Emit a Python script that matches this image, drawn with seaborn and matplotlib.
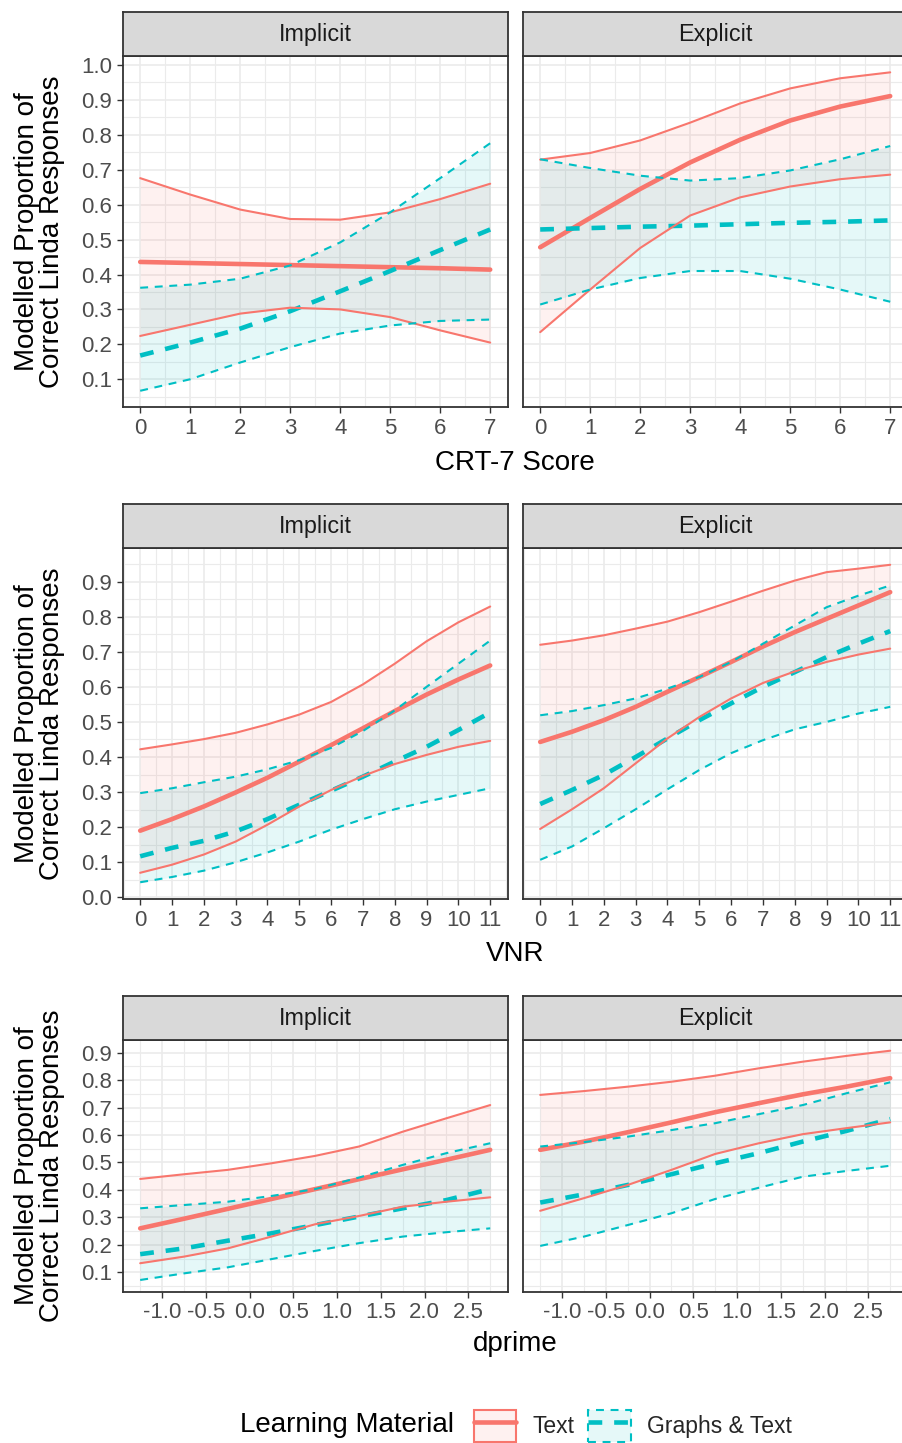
import numpy as np
import pandas as pd
import matplotlib
matplotlib.use("Agg")
import matplotlib.pyplot as plt
import seaborn as sns
from matplotlib.patches import Patch
from matplotlib.lines import Line2D
from matplotlib.colors import to_rgba

# ---------------- data ----------------
materials = ["Text", "Graphs & Text"]
conditions = ["Implicit", "Explicit"]

# CRT-7 Score
crt_x = [0, 1, 2, 3, 4, 5, 6, 7]
crt_imp_text_mean = [0.436, 0.433, 0.430, 0.427, 0.424, 0.421, 0.418, 0.414]
crt_imp_text_lo = [0.224, 0.256, 0.288, 0.305, 0.300, 0.278, 0.240, 0.205]
crt_imp_text_hi = [0.676, 0.629, 0.586, 0.559, 0.557, 0.578, 0.616, 0.660]
crt_imp_graph_mean = [0.168, 0.205, 0.245, 0.295, 0.352, 0.410, 0.470, 0.529]
crt_imp_graph_lo = [0.067, 0.100, 0.148, 0.192, 0.231, 0.254, 0.267, 0.271]
crt_imp_graph_hi = [0.362, 0.371, 0.388, 0.426, 0.492, 0.578, 0.676, 0.776]
crt_exp_text_mean = [0.478, 0.562, 0.645, 0.721, 0.786, 0.841, 0.881, 0.911]
crt_exp_text_lo = [0.235, 0.357, 0.476, 0.569, 0.621, 0.652, 0.673, 0.686]
crt_exp_text_hi = [0.729, 0.748, 0.784, 0.835, 0.890, 0.933, 0.962, 0.979]
crt_exp_graph_mean = [0.529, 0.533, 0.537, 0.540, 0.544, 0.548, 0.551, 0.555]
crt_exp_graph_lo = [0.314, 0.357, 0.390, 0.410, 0.410, 0.388, 0.357, 0.322]
crt_exp_graph_hi = [0.730, 0.705, 0.683, 0.669, 0.676, 0.698, 0.730, 0.768]

# VNR
vnr_x = [0, 1, 2, 3, 4, 5, 6, 7, 8, 9, 10, 11]
vnr_imp_text_mean = [0.190, 0.223, 0.259, 0.299, 0.341, 0.387, 0.434, 0.482, 0.531, 0.578, 0.621, 0.661]
vnr_imp_text_lo = [0.070, 0.093, 0.122, 0.159, 0.207, 0.259, 0.306, 0.346, 0.380, 0.406, 0.429, 0.446]
vnr_imp_text_hi = [0.422, 0.436, 0.451, 0.469, 0.493, 0.521, 0.557, 0.607, 0.666, 0.730, 0.784, 0.829]
vnr_imp_graph_mean = [0.117, 0.141, 0.161, 0.188, 0.223, 0.264, 0.304, 0.344, 0.387, 0.429, 0.477, 0.527]
vnr_imp_graph_lo = [0.043, 0.058, 0.076, 0.100, 0.128, 0.159, 0.193, 0.223, 0.251, 0.273, 0.292, 0.311]
vnr_imp_graph_hi = [0.297, 0.311, 0.328, 0.344, 0.365, 0.391, 0.426, 0.474, 0.533, 0.600, 0.666, 0.732]
vnr_exp_text_mean = [0.443, 0.472, 0.505, 0.543, 0.586, 0.628, 0.671, 0.715, 0.756, 0.794, 0.832, 0.870]
vnr_exp_text_lo = [0.195, 0.251, 0.311, 0.382, 0.453, 0.514, 0.567, 0.611, 0.644, 0.671, 0.692, 0.709]
vnr_exp_text_hi = [0.720, 0.732, 0.747, 0.766, 0.786, 0.813, 0.843, 0.874, 0.903, 0.927, 0.937, 0.948]
vnr_exp_graph_mean = [0.266, 0.306, 0.349, 0.400, 0.453, 0.505, 0.553, 0.600, 0.642, 0.685, 0.723, 0.759]
vnr_exp_graph_lo = [0.107, 0.145, 0.197, 0.251, 0.308, 0.363, 0.411, 0.448, 0.479, 0.500, 0.524, 0.543]
vnr_exp_graph_hi = [0.519, 0.531, 0.548, 0.567, 0.595, 0.628, 0.671, 0.723, 0.775, 0.827, 0.860, 0.889]

# dprime
dp_x = [-1.25, -0.75, -0.25, 0.25, 0.75, 1.25, 1.75, 2.25, 2.75]
dp_imp_text_mean = [0.260, 0.295, 0.331, 0.367, 0.403, 0.439, 0.475, 0.510, 0.546]
dp_imp_text_lo = [0.133, 0.157, 0.187, 0.230, 0.275, 0.305, 0.339, 0.357, 0.373]
dp_imp_text_hi = [0.440, 0.457, 0.473, 0.497, 0.524, 0.558, 0.612, 0.661, 0.709]
dp_imp_graph_mean = [0.166, 0.187, 0.215, 0.242, 0.272, 0.303, 0.333, 0.363, 0.403]
dp_imp_graph_lo = [0.072, 0.096, 0.118, 0.148, 0.178, 0.206, 0.230, 0.246, 0.260]
dp_imp_graph_hi = [0.333, 0.345, 0.357, 0.378, 0.403, 0.445, 0.491, 0.534, 0.570]
dp_exp_text_mean = [0.546, 0.576, 0.610, 0.646, 0.683, 0.716, 0.748, 0.776, 0.807]
dp_exp_text_lo = [0.324, 0.370, 0.418, 0.473, 0.531, 0.570, 0.603, 0.625, 0.646]
dp_exp_text_hi = [0.746, 0.760, 0.776, 0.794, 0.816, 0.843, 0.867, 0.888, 0.907]
dp_exp_graph_mean = [0.354, 0.384, 0.418, 0.457, 0.497, 0.534, 0.576, 0.615, 0.658]
dp_exp_graph_lo = [0.196, 0.230, 0.272, 0.315, 0.367, 0.408, 0.448, 0.469, 0.488]
dp_exp_graph_hi = [0.558, 0.574, 0.594, 0.618, 0.643, 0.676, 0.709, 0.752, 0.792]

# tick labels
crt_xticks = [0, 1, 2, 3, 4, 5, 6, 7]
crt_xticklabels = ["0", "1", "2", "3", "4", "5", "6", "7"]
crt_yticks = [0.1, 0.2, 0.3, 0.4, 0.5, 0.6, 0.7, 0.8, 0.9, 1.0]
vnr_xticks = [0, 1, 2, 3, 4, 5, 6, 7, 8, 9, 10, 11]
vnr_xticklabels = ["0", "1", "2", "3", "4", "5", "6", "7", "8", "9", "10", "11"]
vnr_yticks = [0.0, 0.1, 0.2, 0.3, 0.4, 0.5, 0.6, 0.7, 0.8, 0.9]
dp_xticks = [-1.0, -0.5, 0.0, 0.5, 1.0, 1.5, 2.0, 2.5]
dp_xticklabels = ["-1.0", "-0.5", "0.0", "0.5", "1.0", "1.5", "2.0", "2.5"]
dp_yticks = [0.1, 0.2, 0.3, 0.4, 0.5, 0.6, 0.7, 0.8, 0.9]

y_title = "Modelled Proportion of\nCorrect Linda Responses"
legend_title = "Learning Material"


def build_frame(x, series):
    rows = []
    for (cond, mat), (m, lo, hi) in series.items():
        for xi, mi, li, hi_ in zip(x, m, lo, hi):
            rows.append({"x": xi, "mean": mi, "lo": li, "hi": hi_,
                         "Condition": cond, "Material": mat})
    return pd.DataFrame(rows)


df_crt = build_frame(crt_x, {
    ("Implicit", "Text"): (crt_imp_text_mean, crt_imp_text_lo, crt_imp_text_hi),
    ("Implicit", "Graphs & Text"): (crt_imp_graph_mean, crt_imp_graph_lo, crt_imp_graph_hi),
    ("Explicit", "Text"): (crt_exp_text_mean, crt_exp_text_lo, crt_exp_text_hi),
    ("Explicit", "Graphs & Text"): (crt_exp_graph_mean, crt_exp_graph_lo, crt_exp_graph_hi),
})
df_vnr = build_frame(vnr_x, {
    ("Implicit", "Text"): (vnr_imp_text_mean, vnr_imp_text_lo, vnr_imp_text_hi),
    ("Implicit", "Graphs & Text"): (vnr_imp_graph_mean, vnr_imp_graph_lo, vnr_imp_graph_hi),
    ("Explicit", "Text"): (vnr_exp_text_mean, vnr_exp_text_lo, vnr_exp_text_hi),
    ("Explicit", "Graphs & Text"): (vnr_exp_graph_mean, vnr_exp_graph_lo, vnr_exp_graph_hi),
})
df_dp = build_frame(dp_x, {
    ("Implicit", "Text"): (dp_imp_text_mean, dp_imp_text_lo, dp_imp_text_hi),
    ("Implicit", "Graphs & Text"): (dp_imp_graph_mean, dp_imp_graph_lo, dp_imp_graph_hi),
    ("Explicit", "Text"): (dp_exp_text_mean, dp_exp_text_lo, dp_exp_text_hi),
    ("Explicit", "Graphs & Text"): (dp_exp_graph_mean, dp_exp_graph_lo, dp_exp_graph_hi),
})

# ---------------- style ----------------
sns.set_theme(style="white")
plt.rcParams["font.family"] = ["Liberation Sans", "DejaVu Sans"]

W, H = 902, 1443
fig = plt.figure(figsize=(W / 100, H / 100), dpi=100)
fig.patch.set_facecolor("white")

TEXT_C = "#F8766D"
GRAPH_C = "#00BFC4"
palette = {"Text": TEXT_C, "Graphs & Text": GRAPH_C}
mean_dashes = {"Text": "", "Graphs & Text": (3.0, 2.6)}
band_ls = {"Text": "-", "Graphs & Text": (0, (3.8, 3.2))}
BORDER = "#333333"
GRID = "#EBEBEB"

TICK_FS = 16
STRIP_FS = 16.8
TITLE_FS = 20
MEAN_LW = 3.3
BAND_LW = 1.5

panel_cols = [(122.7, 507.7), (522.7, 907.7)]
rows = [
    dict(df=df_crt, y=(56.0, 407.3), xlim=(-0.35, 7.35), ylim=(0.0197, 1.0258),
         xt=crt_xticks, xtl=crt_xticklabels, yt=crt_yticks, step_x=1.0,
         xlabel="CRT-7 Score", xlab_base=470),
    dict(df=df_vnr, y=(548.3, 899.3), xlim=(-0.55, 11.55), ylim=(-0.0056, 0.995),
         xt=vnr_xticks, xtl=vnr_xticklabels, yt=vnr_yticks, step_x=1.0,
         xlabel="VNR", xlab_base=961),
    dict(df=df_dp, y=(1040.0, 1291.7), xlim=(-1.45, 2.95), ylim=(0.0293, 0.946),
         xt=dp_xticks, xtl=dp_xticklabels, yt=dp_yticks, step_x=0.5,
         xlabel="dprime", xlab_base=1351),
]
STRIP_H = 44.0


def frac_rect(x0, x1, y0, y1):
    return [x0 / W, 1 - y1 / H, (x1 - x0) / W, (y1 - y0) / H]


def minor_ticks(major, step, lim):
    cands = np.arange(major[0] - step / 2, major[-1] + step, step)
    return [c for c in cands if lim[0] <= c <= lim[1]]


for r in rows:
    y0, y1 = r["y"]
    for ci, cond in enumerate(conditions):
        x0, x1 = panel_cols[ci]
        ax = fig.add_axes(frac_rect(x0, x1, y0, y1))
        ax.set_facecolor("white")
        ax.set_xlim(*r["xlim"])
        ax.set_ylim(*r["ylim"])
        ax.set_xticks(r["xt"])
        ax.set_xticklabels(r["xtl"])
        ax.set_xticks(minor_ticks(r["xt"], r["step_x"], r["xlim"]), minor=True)
        ax.set_yticks(r["yt"])
        ax.set_yticklabels([f"{v:.1f}" for v in r["yt"]])
        ax.set_yticks(minor_ticks(r["yt"], 0.1, r["ylim"]), minor=True)
        ax.grid(which="major", color=GRID, lw=1.2)
        ax.grid(which="minor", color=GRID, lw=0.8)
        ax.set_axisbelow(True)

        sub = r["df"][r["df"]["Condition"] == cond]
        sns.lineplot(data=sub, x="x", y="mean", hue="Material", style="Material",
                     hue_order=materials, style_order=materials, palette=palette,
                     dashes=mean_dashes, linewidth=MEAN_LW, errorbar=None,
                     legend=False, sort=True, ax=ax)
        for line in ax.lines:
            line.set_dash_capstyle("butt")
        for mat in materials:
            s = sub[sub["Material"] == mat]
            c = palette[mat]
            ax.fill_between(s["x"], s["lo"], s["hi"], color=c, alpha=0.1, lw=0)
            ax.plot(s["x"], s["lo"], color=c, lw=BAND_LW, ls=band_ls[mat])
            ax.plot(s["x"], s["hi"], color=c, lw=BAND_LW, ls=band_ls[mat])

        ax.set_xlabel("")
        ax.set_ylabel("")
        for sp in ax.spines.values():
            sp.set_visible(True)
            sp.set_color(BORDER)
            sp.set_linewidth(1.3)
        ax.tick_params(axis="both", which="major", length=4.2, width=1.0,
                       color=BORDER, labelcolor="#4D4D4D", labelsize=TICK_FS,
                       pad=3.5, direction="out", bottom=True, left=(ci == 0),
                       labelleft=(ci == 0))
        ax.tick_params(axis="both", which="minor", length=0)

        # strip
        sax = fig.add_axes(frac_rect(x0, x1, y0 - STRIP_H, y0))
        sax.set_facecolor("#D9D9D9")
        sax.set_xticks([])
        sax.set_yticks([])
        for sp in sax.spines.values():
            sp.set_visible(True)
            sp.set_color(BORDER)
            sp.set_linewidth(1.3)
        sax.text(0.5, 0.5, cond, ha="center", va="center", fontsize=STRIP_FS,
                 color="#1A1A1A", transform=sax.transAxes)

    # axis titles
    fig.text(515 / W, 1 - r["xlab_base"] / H, r["xlabel"], ha="center",
             va="baseline", fontsize=TITLE_FS, color="black")
    fig.text(40 / W, 1 - ((y0 + y1) / 2) / H, y_title, ha="center", va="center",
             rotation=90, fontsize=TITLE_FS, color="black", linespacing=0.95,
             multialignment="center")

# legend
fig.text(240 / W, 1 - 1425 / H, legend_title, ha="left", va="center",
         fontsize=TITLE_FS, color="black")
h_text = (Patch(facecolor=to_rgba(TEXT_C, 0.1), edgecolor=TEXT_C, lw=BAND_LW),
          Line2D([], [], color=TEXT_C, lw=MEAN_LW))
h_graph = (Patch(facecolor=to_rgba(GRAPH_C, 0.1), edgecolor=GRAPH_C, lw=BAND_LW,
                 linestyle=(0, (3.8, 3.2))),
           Line2D([], [], color=GRAPH_C, lw=MEAN_LW, dashes=(3.0, 2.6),
                  dash_capstyle="butt"))
fig.legend(handles=[h_text, h_graph], labels=materials, loc="center left",
           bbox_to_anchor=(474 / W, 1 - 1426 / H), ncol=2, frameon=False,
           fontsize=16.5, handlelength=1.85, handleheight=1.8,
           handletextpad=0.7, columnspacing=0.6, borderpad=0,
           borderaxespad=0)

fig.savefig("out.png", dpi=100, facecolor="white")
